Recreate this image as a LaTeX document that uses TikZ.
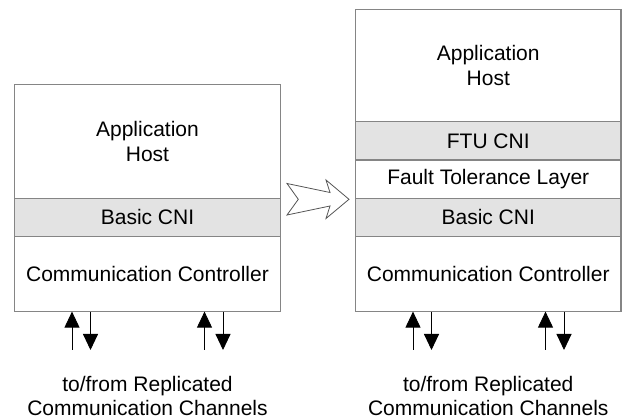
\documentclass[tikz,border=0pt]{standalone}
\usepackage{fontspec}
\setmainfont{Liberation Sans}
\usetikzlibrary{arrows.meta}

\definecolor{bandgray}{HTML}{E3E3E3}
\definecolor{edgegray}{HTML}{858585}
\definecolor{shiftgray}{HTML}{555555}

\tikzset{
  layer/.style={draw=edgegray, line width=1.2pt, minimum width=265.5pt,
    inner sep=0pt, outer sep=0pt, align=center,
    font=\fontsize{21}{24.5}\selectfont},
  band/.style={layer, fill=bandgray},
  chan/.style={line width=0.9pt, -{Triangle[width=15pt,length=16pt]}},
  chantext/.style={align=center, font=\fontsize{21}{24.5}\selectfont},
}

\begin{document}
\begin{tikzpicture}[x=1pt,y=-1pt]
  \useasboundingbox (0,0) rectangle (629,419);
  % helper grid: comment for final drawing
  % \draw[help lines,step=10] (0,0) grid (629,419);

  % left stack
  \node[layer, minimum height=113.8pt] (lhost) at (147.5,141.4) {Application\\Host};
  \node[band,  minimum height=38.2pt]  (lcni)  at (147.5,217.4) {Basic CNI};
  \node[layer, minimum height=75.1pt]  (lcc)   at (147.5,274.05) {Communication Controller};

  % right stack
  \node[layer, minimum height=112.6pt] (rhost) at (488.25,65.6) {Application\\Host};
  \node[band,  minimum height=38.2pt]  (rftu)  at (488.25,141.0) {FTU CNI};
  \node[layer, minimum height=38.2pt]  (rftl)  at (488.25,179.2) {Fault Tolerance Layer};
  \node[band,  minimum height=38.2pt]  (rcni)  at (488.25,217.4) {Basic CNI};
  \node[layer, minimum height=75.1pt]  (rcc)   at (488.25,274.05) {Communication Controller};

  % shift arrow
  \draw[shiftgray, line width=0.8pt, line join=miter]
    (287,183.5) -- (330,192.5) -- (326,180) -- (349,199.3) -- (326,218.5)
    -- (330,206) -- (287,215) -- (298.3,199.3) -- cycle;

  % channel ends
  \coordinate (la1) at (72,350);
  \coordinate (la2) at (90.5,350);
  \coordinate (lb1) at (204.5,350);
  \coordinate (lb2) at (223,350);
  \coordinate (ra1) at (413,350);
  \coordinate (ra2) at (431.5,350);
  \coordinate (rb1) at (545.5,350);
  \coordinate (rb2) at (564,350);

  \draw[chan] (la1) -- (la1 |- lcc.south);
  \draw[chan] (la2 |- lcc.south) -- (la2);
  \draw[chan] (lb1) -- (lb1 |- lcc.south);
  \draw[chan] (lb2 |- lcc.south) -- (lb2);
  \draw[chan] (ra1) -- (ra1 |- rcc.south);
  \draw[chan] (ra2 |- rcc.south) -- (ra2);
  \draw[chan] (rb1) -- (rb1 |- rcc.south);
  \draw[chan] (rb2 |- rcc.south) -- (rb2);

  % captions
  \node[chantext] (lchan) at (147.5,396) {to/from Replicated\\Communication Channels};
  \node[chantext] (rchan) at (488.25,396) {to/from Replicated\\Communication Channels};
\end{tikzpicture}
\end{document}
